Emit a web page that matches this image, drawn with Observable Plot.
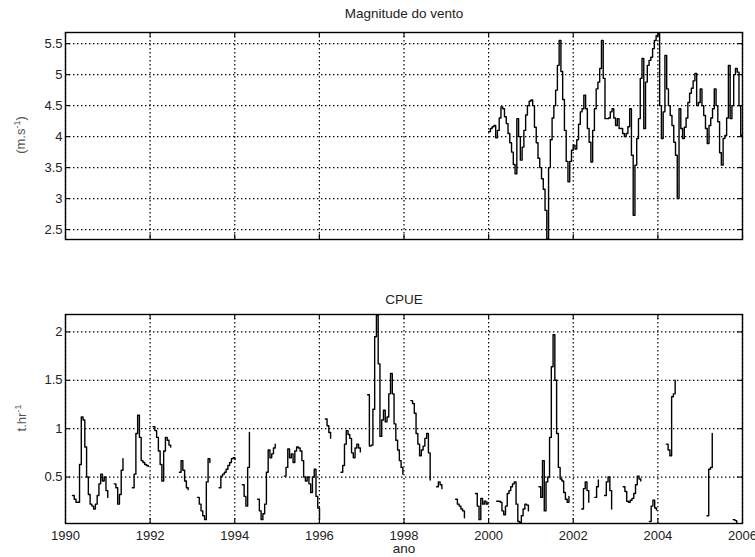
<!DOCTYPE html>
<html><head><meta charset="utf-8">
<script src="https://cdn.jsdelivr.net/npm/d3@7"></script>
<script src="https://cdn.jsdelivr.net/npm/@observablehq/plot@0.6"></script>
<style>
body{margin:0;background:#fff;}
#wrap{position:relative;width:755px;height:557px;overflow:hidden;background:#fff;font-family:"Liberation Sans",Arial,sans-serif;}
.t{position:absolute;font-size:13.5px;color:#222;white-space:nowrap;transform:translate(-50%,-50%);line-height:1;}
.yl{position:absolute;font-size:13px;color:#555;white-space:nowrap;transform:translate(-50%,-50%) rotate(-90deg);}
.yl sup{font-size:9px;}
.p{position:absolute;left:0;}
</style></head><body>
<div id="wrap">
  <div class="t" style="left:404px;top:14px">Magnitude do vento</div>
  <div class="yl" style="left:20px;top:135px">(m.s<sup>-1</sup>)</div>
  <div class="p" id="top" style="top:22px"></div>
  <div class="t" style="left:404px;top:300px">CPUE</div>
  <div class="yl" style="left:21px;top:418px">t.hr<sup>-1</sup></div>
  <div class="p" id="bot" style="top:300px"></div>
  <div class="t" style="left:404px;top:549px">ano</div>
</div>
<script>
// ---- data ----
const yearTicks = [1990,1992,1994,1996,1998,2000,2002,2004,2006];
const windTicks = [2.5,3,3.5,4,4.5,5,5.5];
const cpueTicks = [0.5,1,1.5,2];

// wind magnitude, half-monthly steps starting 2000.0
const windStart = 2000.0;
const windValues = [
  4.08,4.13,4.16,4.18,3.98,4.1,4.3,4.48,4.45,4.32,4.21,4.05,
  3.9,3.75,3.55,3.4,4.29,4.0,3.62,3.83,4.1,4.35,4.5,4.57,
  4.59,4.5,4.15,3.9,3.65,3.5,3.32,3.15,2.81,2.35,3.5,3.95,
  4.3,4.5,4.75,5.15,5.55,5.05,4.6,4.1,3.6,3.27,3.6,3.78,
  3.86,3.8,3.95,4.2,4.4,4.45,4.67,4.45,4.13,3.91,3.59,4.1,
  4.45,4.77,4.88,5.1,5.55,4.94,4.29,4.29,4.3,4.4,4.45,4.3,
  4.18,4.29,4.13,4.13,4.05,4.0,4.05,4.16,4.45,3.7,2.73,3.54,
  3.97,4.29,4.94,5.26,4.13,4.88,5.15,5.23,5.28,5.42,5.55,5.63,
  5.66,4.5,3.97,4.4,5.31,4.77,4.5,4.34,4.18,3.91,3.7,3.0,
  4.45,4.13,3.97,4.15,4.3,4.55,4.7,4.78,4.9,5.02,4.5,4.55,
  4.77,4.5,4.34,4.13,3.89,4.18,4.3,4.45,4.77,4.5,4.24,3.74,
  3.54,3.97,4.02,4.3,5.15,4.29,4.5,5.0,5.1,5.04,4.5,4.02
];
const windEnd = 2006.0;

// CPUE: segments (start year, half-monthly values)
const cpueStart = [1990.165,1991.15,1991.58,1992.07,1992.69,1993.12,1993.63,1994.18,1994.54,1995.17,
  1996.14,1996.51,1997.14,1998.16,1998.77,1999.22,1999.69,2000.19,2001.19,2002.2,2002.51,2002.74,
  2003.18,2003.8,2004.2,2005.16,2005.78];
const cpueSegments = [
  [0.31,0.27,0.24,0.24,0.63,1.12,1.09,0.81,0.5,0.32,0.22,0.2,0.17,0.22,0.31,0.43,0.53,0.46,0.5,0.36,0.29],
  [0.43,0.39,0.22,0.32,0.57,0.69],
  [0.39,0.53,0.95,1.14,0.91,0.67,0.65,0.63,0.62,0.61],
  [1.02,0.98,0.91,0.77,0.63,0.46,0.77,0.91,0.88,0.83,0.81],
  [0.55,0.67,0.57,0.46,0.39,0.37],
  [0.29,0.22,0.15,0.1,0.06,0.45,0.69,0.65],
  [0.39,0.51,0.53,0.55,0.58,0.62,0.65,0.69,0.7,0.68],
  [0.42,0.3,0.2,0.6,0.96],
  [0.27,0.15,0.06,0.12,0.22,0.55,0.78,0.7,0.74,0.8,0.84],
  [0.51,0.6,0.79,0.7,0.74,0.65,0.77,0.81,0.8,0.77,0.67,0.5,0.46,0.5,0.43,0.34,0.5,0.58,0.3,0.18,0.06],
  [1.1,1.03,0.96,0.9],
  [0.55,0.62,0.84,0.98,0.94,0.9,0.75,0.7,0.8,0.84,0.8,0.76],
  [1.35,0.82,0.83,1.2,1.95,2.17,1.67,0.92,1.09,1.19,1.07,1.12,1.36,1.57,1.36,1.05,0.88,0.78,0.67,0.6,0.53],
  [1.29,1.26,1.16,0.95,0.84,0.72,0.78,0.82,0.9,0.95,0.75,0.47],
  [0.4,0.45,0.42,0.38],
  [0.27,0.22,0.2,0.17,0.15,0.08],
  [0.33,0.2,0.06,0.28,0.22,0.25,0.22,0.24],
  [0.25,0.25,0.24,0.15,0.11,0.2,0.33,0.36,0.4,0.43,0.45,0.22,0.04,0.03,0.1,0.17,0.22,0.21,0.15],
  [0.4,0.29,0.67,0.15,0.45,0.5,0.91,1.64,1.97,1.5,0.95,0.6,0.48,0.46,0.34,0.27,0.24,0.3],
  [0.17,0.38,0.45,0.36,0.24],
  [0.29,0.4,0.47],
  [0.31,0.45,0.5,0.36,0.17],
  [0.4,0.35,0.25,0.24,0.26,0.28,0.33,0.42,0.51,0.48,0.46],
  [0.04,0.2,0.26,0.18,0.16],
  [0.84,0.78,0.72,1.33,1.36,1.5],
  [0.1,0.58,0.6,0.95],
  [0.06,0.05,0.03]
];

// ---- build tables ----
const STEP = 1/24;
const windData = windValues.map((v,i)=>({t: windStart + i*STEP, v, s:0}));
windData.push({t: windEnd, v: windValues[windValues.length-1], s:0});
const cpueData = [];
cpueSegments.forEach((seg,k)=>seg.forEach((v,i)=>cpueData.push({t: cpueStart[k] + i*STEP, v, s:k})));

const W = 755, ML = 65, MR = 13;
const IW = W - ML - MR;
const FONT = "Liberation Sans, Arial, sans-serif";

function panel({data, yDomain, yTicks, height, mt, mb, showX}) {
  const ih = height - mt - mb;
  const grid = {stroke:"#000", strokeOpacity:1, strokeWidth:1.2, strokeDasharray:"1.4,2.6"};
  const tk = {stroke:"#000", strokeWidth:1.1};
  const marks = [
    Plot.gridX(yearTicks, grid),
    Plot.gridY(yTicks, grid),
    Plot.tickX(yearTicks, {x:d=>d, ...tk, insetTop: ih-5}),
    Plot.tickX(yearTicks, {x:d=>d, ...tk, insetBottom: ih-5}),
    Plot.tickY(yTicks, {y:d=>d, ...tk, insetRight: IW-5}),
    Plot.tickY(yTicks, {y:d=>d, ...tk, insetLeft: IW-5}),
    Plot.line(data, {x:"t", y:"v", z:"s", curve:"step-after", stroke:"#000", strokeWidth:1.4, clip:true}),
    Plot.frame({stroke:"#000", strokeWidth:1.4}),
    Plot.axisY(yTicks, {label:null, tickSize:0, tickPadding:3, fontSize:13, fill:"#222", tickFormat:d=>String(d)})
  ];
  if (showX) marks.push(Plot.axisX(yearTicks, {label:null, tickSize:0, tickPadding:7, fontSize:13, fill:"#222", tickFormat:d=>String(d)}));
  return Plot.plot({
    width: W, height, marginLeft: ML, marginRight: MR, marginTop: mt, marginBottom: mb,
    style: {fontFamily: FONT, background: "transparent", overflow: "visible"},
    x: {domain:[1990,2006], axis:null, label:null},
    y: {domain:yDomain, axis:null, label:null},
    marks
  });
}

document.getElementById("top").append(panel({data: windData, yDomain:[2.34,5.68], yTicks: windTicks, height:230, mt:10, mb:13, showX:false}));
document.getElementById("bot").append(panel({data: cpueData, yDomain:[0.02,2.18], yTicks: cpueTicks, height:250, mt:14, mb:27, showX:true}));
</script>
</body></html>
